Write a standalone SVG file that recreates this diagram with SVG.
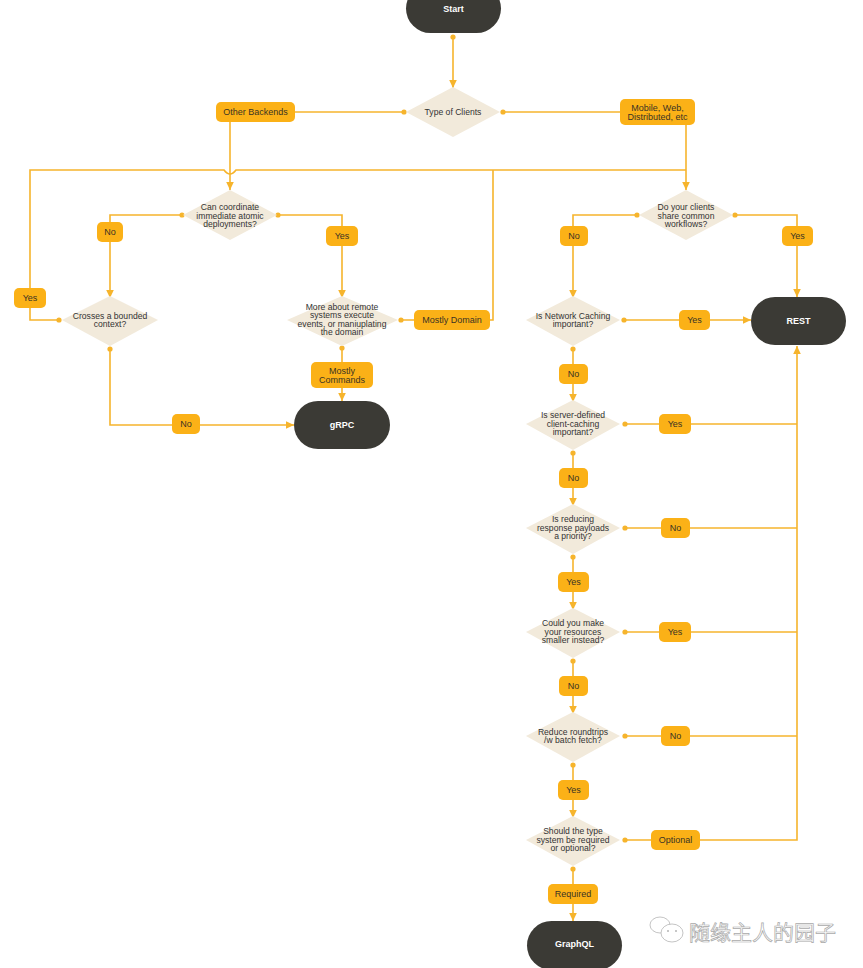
<svg xmlns="http://www.w3.org/2000/svg" width="863" height="968" viewBox="0 0 863 968">
<style>
.bg{fill:#ffffff}
.term{fill:#3b3a35}
.term-t{fill:#ffffff;font-family:"Liberation Sans",Arial,sans-serif;font-size:9px;font-weight:bold;text-anchor:middle;dominant-baseline:central}
.dec{fill:#f2eadb}
.dec-t{fill:#333333;font-family:"Liberation Sans",Arial,sans-serif;font-size:8.6px;text-anchor:middle}
.lab{fill:#fbb117}
.lab-t{fill:#3a3324;font-family:"Liberation Sans",Arial,sans-serif;font-size:9px;text-anchor:middle;dominant-baseline:central}
.ln{fill:none;stroke:#f6b42c;stroke-width:1.6}
.wm{fill:#ffffff;stroke:#a9a9a9;stroke-width:0.7;font-family:"Noto Sans CJK SC","Noto Sans",sans-serif;font-size:21px}
</style>
<defs>
<marker id="arrow" markerUnits="userSpaceOnUse" markerWidth="10" markerHeight="10" viewBox="0 0 10 10" refX="9" refY="5" orient="auto">
<path d="M1,1.2 L9,5 L1,8.8 Z" fill="#f6b42c"/>
</marker>
<marker id="dot" markerUnits="userSpaceOnUse" markerWidth="6" markerHeight="6" viewBox="0 0 6 6" refX="3" refY="3">
<circle cx="3" cy="3" r="2.6" fill="#f6b42c"/>
</marker>
</defs>
<rect class="bg" x="0" y="0" width="863" height="968"/>

<g id="connectors">
<path class="ln" d="M453,37 L453,88" marker-start="url(#dot)" marker-end="url(#arrow)"/>
<path class="ln" d="M404,112 L295,112" marker-start="url(#dot)"/>
<path class="ln" d="M503,112 L620,112" marker-start="url(#dot)"/>
<path class="ln" d="M230,122 L230,190" marker-end="url(#arrow)"/>
<path class="ln" d="M686,125 L686,190" marker-end="url(#arrow)"/>
<path class="ln" d="M59,320 L30,320 L30,170 L224,170 Q230,178 236,170 L686,170" marker-start="url(#dot)"/>
<path class="ln" d="M401,320 L493,320 L493,170" marker-start="url(#dot)"/>
<path class="ln" d="M182,215 L110,215 L110,298" marker-start="url(#dot)" marker-end="url(#arrow)"/>
<path class="ln" d="M278,215 L342,215 L342,298" marker-start="url(#dot)" marker-end="url(#arrow)"/>
<path class="ln" d="M110,349 L110,425 L294,425" marker-start="url(#dot)" marker-end="url(#arrow)"/>
<path class="ln" d="M342,348 L342,401" marker-start="url(#dot)" marker-end="url(#arrow)"/>
<path class="ln" d="M637,215 L573,215 L573,298" marker-start="url(#dot)" marker-end="url(#arrow)"/>
<path class="ln" d="M735,215 L797,215 L797,297" marker-start="url(#dot)" marker-end="url(#arrow)"/>
<path class="ln" d="M624,320 L751,320" marker-start="url(#dot)" marker-end="url(#arrow)"/>
<path class="ln" d="M573,349 L573,402" marker-start="url(#dot)" marker-end="url(#arrow)"/>
<path class="ln" d="M625,424 L797,424" marker-start="url(#dot)"/>
<path class="ln" d="M573,453 L573,506" marker-start="url(#dot)" marker-end="url(#arrow)"/>
<path class="ln" d="M625,528 L797,528" marker-start="url(#dot)"/>
<path class="ln" d="M573,557 L573,610" marker-start="url(#dot)" marker-end="url(#arrow)"/>
<path class="ln" d="M625,632 L797,632" marker-start="url(#dot)"/>
<path class="ln" d="M573,661 L573,714" marker-start="url(#dot)" marker-end="url(#arrow)"/>
<path class="ln" d="M625,736 L797,736" marker-start="url(#dot)"/>
<path class="ln" d="M573,765 L573,818" marker-start="url(#dot)" marker-end="url(#arrow)"/>
<path class="ln" d="M625,840 L797,840 L797,346" marker-start="url(#dot)" marker-end="url(#arrow)"/>
<path class="ln" d="M573,869 L573,921" marker-start="url(#dot)" marker-end="url(#arrow)"/>
</g>

<g id="start"><rect class="term" x="406" y="-16" width="95" height="49" rx="24.5"/><text class="term-t" x="453.5" y="9">Start</text></g>
<g id="type-of-clients"><polygon class="dec" points="453,87 500,112 453,137 406,112"/><text class="dec-t" x="453" y="115">Type of Clients</text></g>
<g id="other-backends"><rect class="lab" x="216" y="102" width="79" height="20" rx="5"/><text class="lab-t" x="255.5" y="112">Other Backends</text></g>
<g id="mobile-web"><rect class="lab" x="620" y="99" width="75" height="26" rx="5"/><text class="lab-t" x="657.5" y="107.5">Mobile, Web,</text><text class="lab-t" x="657.5" y="116.5">Distributed, etc</text></g>

<g id="can-coordinate"><polygon class="dec" points="230,190 277,215 230,240 183,215"/><text class="dec-t"><tspan x="230" y="210">Can coordinate</tspan><tspan x="230" y="218.5">immediate atomic</tspan><tspan x="230" y="227">deployments?</tspan></text></g>
<g id="no-1"><rect class="lab" x="97" y="222" width="26" height="20" rx="5"/><text class="lab-t" x="110" y="232">No</text></g>
<g id="yes-1"><rect class="lab" x="326" y="226" width="32" height="20" rx="5"/><text class="lab-t" x="342" y="236">Yes</text></g>
<g id="crosses-bounded"><polygon class="dec" points="110,296 158,320 110,346 62,320"/><text class="dec-t"><tspan x="110" y="318.5">Crosses a bounded</tspan><tspan x="110" y="327">context?</tspan></text></g>
<g id="yes-left"><rect class="lab" x="14" y="288" width="32" height="20" rx="5"/><text class="lab-t" x="30" y="298">Yes</text></g>
<g id="more-about-remote"><polygon class="dec" points="342,296 398,320 342,346 287,320"/><text class="dec-t"><tspan x="342" y="309.5">More about remote</tspan><tspan x="342" y="318">systems execute</tspan><tspan x="342" y="326.5">events, or maniuplating</tspan><tspan x="342" y="335">the domain</tspan></text></g>
<g id="mostly-domain"><rect class="lab" x="414" y="310" width="76" height="20" rx="5"/><text class="lab-t" x="452" y="320">Mostly Domain</text></g>
<g id="mostly-commands"><rect class="lab" x="311" y="362" width="62" height="26" rx="5"/><text class="lab-t" x="342" y="370.5">Mostly</text><text class="lab-t" x="342" y="379.5">Commands</text></g>
<g id="no-2"><rect class="lab" x="172" y="414" width="28" height="20" rx="5"/><text class="lab-t" x="186" y="424">No</text></g>
<g id="grpc"><rect class="term" x="294" y="401" width="96" height="48" rx="24"/><text class="term-t" x="342" y="425">gRPC</text></g>

<g id="share-workflows"><polygon class="dec" points="686,190 733,215 686,240 639,215"/><text class="dec-t"><tspan x="686" y="210">Do your clients</tspan><tspan x="686" y="218.5">share common</tspan><tspan x="686" y="227">workflows?</tspan></text></g>
<g id="no-3"><rect class="lab" x="560" y="226" width="28" height="20" rx="5"/><text class="lab-t" x="574" y="236">No</text></g>
<g id="yes-3"><rect class="lab" x="782" y="226" width="31" height="20" rx="5"/><text class="lab-t" x="797.5" y="236">Yes</text></g>
<g id="rest"><rect class="term" x="751" y="297" width="95" height="48" rx="24"/><text class="term-t" x="798.5" y="321">REST</text></g>

<g id="network-caching"><polygon class="dec" points="573,296 620,320 573,346 526,320"/><text class="dec-t"><tspan x="573" y="318.5">Is Network Caching</tspan><tspan x="573" y="327">important?</tspan></text></g>
<g id="yes-4"><rect class="lab" x="679" y="310" width="31" height="20" rx="5"/><text class="lab-t" x="694.5" y="320">Yes</text></g>
<g id="no-4"><rect class="lab" x="559" y="364" width="29" height="20" rx="5"/><text class="lab-t" x="573.5" y="374">No</text></g>

<g id="server-defined"><polygon class="dec" points="573,400 620,424 573,450 526,424"/><text class="dec-t"><tspan x="573" y="418">Is server-defined</tspan><tspan x="573" y="426.5">client-caching</tspan><tspan x="573" y="435">important?</tspan></text></g>
<g id="yes-5"><rect class="lab" x="659" y="414" width="32" height="20" rx="5"/><text class="lab-t" x="675" y="424">Yes</text></g>
<g id="no-5"><rect class="lab" x="559" y="468" width="29" height="20" rx="5"/><text class="lab-t" x="573.5" y="478">No</text></g>

<g id="reducing-payloads"><polygon class="dec" points="573,504 620,528 573,554 526,528"/><text class="dec-t"><tspan x="573" y="522">Is reducing</tspan><tspan x="573" y="530.5">response payloads</tspan><tspan x="573" y="539">a priority?</tspan></text></g>
<g id="no-6"><rect class="lab" x="661" y="518" width="29" height="20" rx="5"/><text class="lab-t" x="675.5" y="528">No</text></g>
<g id="yes-6"><rect class="lab" x="558" y="572" width="31" height="20" rx="5"/><text class="lab-t" x="573.5" y="582">Yes</text></g>

<g id="smaller-resources"><polygon class="dec" points="573,608 620,632 573,658 526,632"/><text class="dec-t"><tspan x="573" y="626">Could you make</tspan><tspan x="573" y="634.5">your resources</tspan><tspan x="573" y="643">smaller instead?</tspan></text></g>
<g id="yes-7"><rect class="lab" x="659" y="622" width="32" height="20" rx="5"/><text class="lab-t" x="675" y="632">Yes</text></g>
<g id="no-7"><rect class="lab" x="559" y="676" width="29" height="20" rx="5"/><text class="lab-t" x="573.5" y="686">No</text></g>

<g id="batch-fetch"><polygon class="dec" points="573,712 620,736 573,762 526,736"/><text class="dec-t"><tspan x="573" y="734.5">Reduce roundtrips</tspan><tspan x="573" y="743">/w batch fetch?</tspan></text></g>
<g id="no-8"><rect class="lab" x="661" y="726" width="29" height="20" rx="5"/><text class="lab-t" x="675.5" y="736">No</text></g>
<g id="yes-8"><rect class="lab" x="558" y="780" width="31" height="20" rx="5"/><text class="lab-t" x="573.5" y="790">Yes</text></g>

<g id="type-system"><polygon class="dec" points="573,816 620,840 573,866 526,840"/><text class="dec-t"><tspan x="573" y="834">Should the type</tspan><tspan x="573" y="842.5">system be required</tspan><tspan x="573" y="851">or optional?</tspan></text></g>
<g id="optional"><rect class="lab" x="651" y="830" width="49" height="20" rx="5"/><text class="lab-t" x="675.5" y="840">Optional</text></g>
<g id="required"><rect class="lab" x="548" y="884" width="50" height="20" rx="5"/><text class="lab-t" x="573" y="894">Required</text></g>
<g id="graphql"><rect class="term" x="527" y="921" width="95" height="49" rx="24.5"/><text class="term-t" x="574.5" y="944">GraphQL</text></g>

<g id="watermark">
<ellipse cx="660" cy="925" rx="10" ry="8" fill="#ffffff" stroke="#b5b5b5" stroke-width="0.8"/>
<ellipse cx="672" cy="933" rx="11" ry="9" fill="#ffffff" stroke="#b5b5b5" stroke-width="0.8"/>
<circle cx="668" cy="931" r="1" fill="#b5b5b5"/>
<circle cx="676" cy="931" r="1" fill="#b5b5b5"/>
<text class="wm" x="689" y="940">随缘主人的园子</text>
</g>
</svg>
